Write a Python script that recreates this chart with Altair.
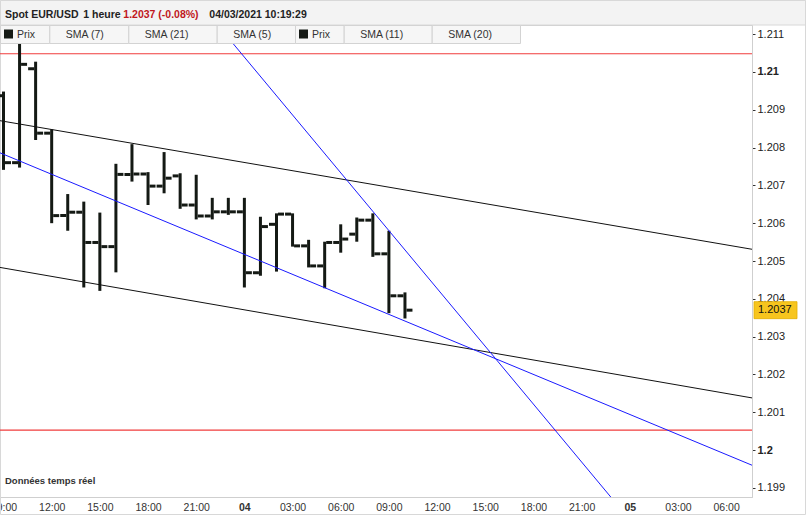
import altair as alt
import pandas as pd

# ---------------- data ----------------
times = pd.date_range("2021-03-03 09:00", periods=26, freq="h").strftime("%Y-%m-%dT%H:%M:%S").tolist()
opens = [1.20937, 1.20760, 1.21008, 1.20838, 1.20620, 1.20629, 1.20549, 1.20538, 1.20729, 1.20730,
         1.20698, 1.20725, 1.20648, 1.20619, 1.20630, 1.20630, 1.20469, 1.20597, 1.20624, 1.20540,
         1.20487, 1.20549, 1.20571, 1.20608, 1.20519, 1.20408]
highs = [1.20948, 1.21076, 1.21027, 1.20848, 1.20677, 1.20657, 1.20628, 1.20757, 1.20809, 1.20735,
         1.20788, 1.20732, 1.20728, 1.20667, 1.20667, 1.20667, 1.20617, 1.20626, 1.20626, 1.20556,
         1.20551, 1.20597, 1.20615, 1.20626, 1.20580, 1.20417]
lows = [1.20741, 1.20747, 1.20820, 1.20600, 1.20580, 1.20430, 1.20421, 1.20470, 1.20710, 1.20648,
        1.20679, 1.20638, 1.20610, 1.20610, 1.20622, 1.20430, 1.20461, 1.20472, 1.20538, 1.20483,
        1.20428, 1.20522, 1.20551, 1.20511, 1.20362, 1.20348]
closes = [1.20760, 1.21020, 1.20838, 1.20620, 1.20629, 1.20549, 1.20538, 1.20729, 1.20730, 1.20698,
          1.20719, 1.20648, 1.20619, 1.20630, 1.20630, 1.20469, 1.20591, 1.20624, 1.20540, 1.20487,
          1.20549, 1.20558, 1.20608, 1.20519, 1.20408, 1.20370]

levels = [1.21048, 1.20053]

line_names = ["canal_haut", "canal_bas", "tendance", "pente"]
line_t0 = ["2021-03-03T08:46:55", "2021-03-03T08:46:55", "2021-03-03T08:46:55", "2021-03-03T22:20:00"]
line_v0 = [1.20871, 1.20483, 1.20786, 1.21124]
line_t1 = ["2021-03-05T07:36:40", "2021-03-05T07:36:40", "2021-03-05T07:36:40", "2021-03-04T22:49:00"]
line_v1 = [1.20531, 1.20138, 1.19960, 1.19876]
line_colors = ["#111111", "#111111", "#1a1aff", "#1a1aff"]

y_ticks = [1.199, 1.2, 1.201, 1.202, 1.203, 1.204, 1.205, 1.206, 1.207, 1.208, 1.209, 1.21, 1.211]
x_ticks = pd.date_range("2021-03-03 09:00", "2021-03-05 06:00", freq="3h")

legend_labels = ["Prix", "SMA (7)", "SMA (21)", "SMA (5)", "Prix", "SMA (11)", "SMA (20)"]
legend_icon = [True, False, False, False, True, False, False]

title_parts = ["Spot EUR/USD", "1 heure", "1.2037 (-0.08%)", "04/03/2021 10:19:29"]
last_label = "1.2037"
note = "Données temps réel"

# ---------------- layout / style ----------------
W, H = 752, 472
FONT = "Liberation Sans"
BAR_COLOR = "#141914"

x_scale = alt.Scale(domain=[alt.DateTime(year=2021, month=3, date=3, hours=8, minutes=46, seconds=55),
                            alt.DateTime(year=2021, month=3, date=5, hours=7, minutes=36, seconds=40)])
y_scale = alt.Scale(domain=[1.19876, 1.21124], nice=False, zero=False)

x_axis = alt.Axis(
    values=[alt.DateTime(year=d.year, month=d.month, date=d.day, hours=d.hour) for d in x_ticks],
    labelExpr="hours(datum.value) == 0 ? timeFormat(datum.value, '%d') : timeFormat(datum.value, '%H:%M')",
    labelFontWeight={"condition": {"test": "hours(datum.value) == 0", "value": "bold"}, "value": "normal"},
    ticks=False, labelFlush=False, labelOverlap=False, grid=False,
    domainColor="#cfcfcf", labelPadding=5, labelFontSize=10.5, labelColor="#333333", labelFont=FONT,
)
y_axis = alt.Axis(
    orient="right", values=y_ticks, format=".3~f", grid=False,
    labelFontWeight={"condition": {"test": "abs(datum.value*100 - round(datum.value*100)) < 0.0001",
                                   "value": "bold"}, "value": "normal"},
    tickSize=3, tickColor="#333333", domainColor="#cfcfcf", labelPadding=2,
    labelFontSize=11, labelColor="#222222", labelFont=FONT,
)

df = pd.DataFrame({"t": times, "o": opens, "h": highs, "l": lows, "c": closes})
base = alt.Chart(df)

Y = lambda f: alt.Y(f, scale=y_scale, axis=y_axis, title=None)

hl = base.mark_rule(strokeWidth=3, color=BAR_COLOR).encode(
    x=alt.X("t:T", scale=x_scale, axis=x_axis, title=None), y=Y("l:Q"), y2="h:Q")
op = base.mark_tick(orient="horizontal", size=6, thickness=3, xOffset=-4.5, color=BAR_COLOR, opacity=1).encode(
    x=alt.X("t:T", title=None), y=Y("o:Q"))
cl = base.mark_tick(orient="horizontal", size=6, thickness=3, xOffset=4.5, color=BAR_COLOR, opacity=1).encode(
    x=alt.X("t:T", title=None), y=Y("c:Q"))

lev = alt.Chart(pd.DataFrame({"v": levels})).mark_rule(color="#f03c3c", strokeWidth=1.2).encode(y=Y("v:Q"))

lines_data = alt.Data(values=[{"name": n, "t0": a, "v0": b, "t1": c, "v1": d}
                              for n, a, b, c, d in zip(line_names, line_t0, line_v0, line_t1, line_v1)],
                      format={"parse": {"t0": "date", "t1": "date"}})
trend = alt.Chart(lines_data).mark_rule(strokeWidth=1, clip=True).encode(
    x=alt.X("t0:T", title=None), x2="t1:T",
    y=Y("v0:Q"), y2="v1:Q",
    color=alt.Color("name:N", scale=alt.Scale(domain=line_names, range=line_colors), legend=None),
)

last_df = pd.DataFrame({"v": [closes[-1]], "label": [last_label]})
last_box = alt.Chart(last_df).mark_tick(orient="horizontal", size=43, thickness=17, color="#f7c51e",
                                        opacity=1, stroke="#e3ad00", strokeWidth=0.8).encode(
    x=alt.value(775.5), y=Y("v:Q"))
last_txt = alt.Chart(last_df).mark_text(align="left", baseline="middle", fontSize=11, font=FONT,
                                        color="#111111").encode(
    x=alt.value(758), y=Y("v:Q"), text="label:N")

one = alt.Data(values=[{"k": 1}])

frame = alt.Chart(one).mark_rect(fill="white", fillOpacity=0, stroke="#d8d8d8", strokeWidth=1).encode(
    x=alt.value(0.5), x2=alt.value(805.5), y=alt.value(-24.5), y2=alt.value(489.5))
header = alt.Chart(one).mark_rect(fill="#f3f3f3", stroke="#d8d8d8", strokeWidth=1).encode(
    x=alt.value(0.5), x2=alt.value(805.5), y=alt.value(-24.5), y2=alt.value(0))

title_x = [5, 83.3, 123.3, 209.3]
title_col = ["#222222", "#222222", "#c0171d", "#222222"]
title_layers = [
    alt.Chart(one).mark_text(align="left", baseline="middle", fontSize=10.5, fontWeight="bold", font=FONT,
                             color=col, text=txt).encode(x=alt.value(tx), y=alt.value(-10))
    for txt, tx, col in zip(title_parts, title_x, title_col)
]

box_edges = [0, 49.3, 128.3, 216.7, 295, 343.7, 431.7, 520]
legend_layers = []
for i, lab in enumerate(legend_labels):
    x0, x1 = box_edges[i], box_edges[i + 1]
    legend_layers.append(alt.Chart(one).mark_rect(fill="#f6f6f6", stroke="#d3d3d3", strokeWidth=1).encode(
        x=alt.value(x0 + 0.5), x2=alt.value(x1 + 0.5), y=alt.value(0.5), y2=alt.value(18.5)))
    if legend_icon[i]:
        legend_layers.append(alt.Chart(one).mark_rect(fill="#151a15").encode(
            x=alt.value(x0 + 4), x2=alt.value(x0 + 13), y=alt.value(4.5), y2=alt.value(13.5)))
        tx = x0 + 17
    else:
        tx = x0 + 16.5
    legend_layers.append(alt.Chart(one).mark_text(align="left", baseline="middle", fontSize=10.5, font=FONT,
                                                  color="#333333", text=lab).encode(
        x=alt.value(tx), y=alt.value(9.5)))

note_layer = alt.Chart(one).mark_text(align="left", baseline="middle", fontSize=9.5, font=FONT,
                                      fontWeight="bold", color="#333333", text=note).encode(
    x=alt.value(5), y=alt.value(455.5))

chart = alt.layer(
    frame, header, lev, hl, trend, op, cl, last_box, last_txt, note_layer, *title_layers, *legend_layers
).properties(
    width=W, height=H,
    autosize=alt.AutoSizeParams(type="none"),
    padding={"left": 0, "top": 25, "right": 54, "bottom": 18},
    background="white",
).configure_view(stroke="#cfcfcf", strokeWidth=1)

chart.save("out.html", embed_options={"renderer": "svg", "actions": False})
